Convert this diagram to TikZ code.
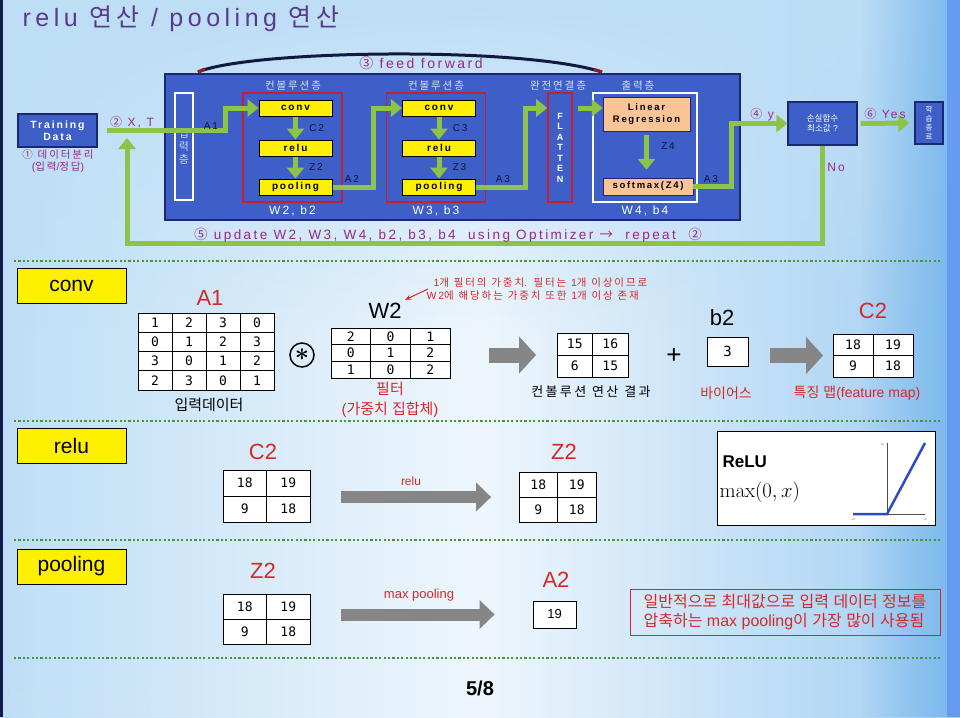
\documentclass[tikz,border=0pt]{standalone}
\usepackage[no-math]{fontspec}
\setmainfont{Liberation Sans}
\newfontfamily\latfont{Liberation Sans}
\newfontfamily\widefont{Liberation Sans}[LetterSpace=18]
\newfontfamily\krfont{Noto Sans CJK KR}
\newfontfamily\krwide{Noto Sans CJK KR}[LetterSpace=18]
\newfontfamily\numfont{DejaVu Sans Mono}
\usepackage{amsmath}
\usepackage{amssymb}
\usetikzlibrary{calc}
\usetikzlibrary{arrows.meta}
\usetikzlibrary{matrix}
\usetikzlibrary{positioning}
\usetikzlibrary{fadings}
\tikzset{ampersand replacement = \amp}
\newcommand{\amp}{&}

% hangul and circled numbers go to the korean font
\def\curlat{\latfont}
\def\curkr{\krfont}
\newcommand{\widetxt}{\widefont\let\curlat\widefont\let\curkr\krwide}
\XeTeXinterchartokenstate=1
\newXeTeXintercharclass\krclass
\count255="AC00
\loop\XeTeXcharclass\count255=\krclass\ifnum\count255<"D7A3 \advance\count255 by 1 \repeat
\count255="2460
\loop\XeTeXcharclass\count255=\krclass\ifnum\count255<"2473 \advance\count255 by 1 \repeat
\XeTeXcharclass"2192=\krclass
\XeTeXinterchartoks 0 \krclass = {\curkr}
\XeTeXinterchartoks 4095 \krclass = {\curkr}
\XeTeXinterchartoks \krclass 0 = {\curlat}
\XeTeXinterchartoks \krclass 4095 = {\curlat}

\definecolor{bgL}{RGB}{190,222,246}
\definecolor{bgM}{RGB}{238,246,252}
\definecolor{bgR}{RGB}{120,182,236}
\definecolor{netblue}{RGB}{62,94,200}
\definecolor{navy}{RGB}{28,40,110}
\definecolor{arrowgreen}{RGB}{141,196,72}
\definecolor{boxred}{RGB}{200,30,50}
\definecolor{ttlpurple}{RGB}{88,58,140}
\definecolor{labmag}{RGB}{150,40,140}
\definecolor{labred}{RGB}{215,40,40}
\definecolor{peach}{RGB}{250,196,150}
\definecolor{yel}{RGB}{255,240,0}
\definecolor{dotgreen}{RGB}{70,150,50}
\definecolor{plotblue}{RGB}{45,75,195}

\tikzset{
  ybox/.style={draw=black, line width=1pt, fill=yel, minimum width=73pt, minimum height=16pt, inner sep=0pt, font=\widetxt\bfseries\fontsize{10}{10}\selectfont},
  redframe/.style={draw=boxred, line width=1.6pt, minimum width=99pt, minimum height=109pt},
  garrow/.style={arrowgreen, line width=5pt, -{Triangle[length=11pt,width=17pt]}},
  bigarrow/.style={gray!95, line width=15pt, -{Triangle[length=17pt,width=36pt]}},
  midarrow/.style={gray!95, line width=12pt, -{Triangle[length=15pt,width=28pt]}},
  hdr/.style={text=white!80!netblue, font=\widetxt\fontsize{10.5}{10.5}\selectfont},
  lbl/.style={text=navy!50!black, font=\widetxt\fontsize{10}{10}\selectfont},
  wlbl/.style={text=white, font=\widetxt\fontsize{12}{12}\selectfont},
  maglbl/.style={text=labmag, font=\widetxt\fontsize{12}{12}\selectfont},
  secbox/.style={draw=black, line width=1pt, fill=yel, minimum width=109pt, minimum height=35pt, font=\fontsize{21}{21}\selectfont},
  redlbl/.style={text=labred, font=\fontsize{22}{22}\selectfont},
  blklbl/.style={text=black, font=\fontsize{22}{22}\selectfont},
  redtxt/.style={text=labred, font=\fontsize{14}{14}\selectfont},
  mat/.style 2 args={matrix of nodes, column sep=-.7pt, row sep=-.7pt,
    nodes={draw, line width=.7pt, fill=white, anchor=center, inner sep=0pt,
      minimum width=#1, minimum height=#2, font=\numfont\fontsize{13}{13}\selectfont}}
}

\begin{document}
\begin{tikzpicture}[x=1pt, y=-1pt]
\useasboundingbox (0,0) rectangle (960,717);
% background
\shade[left color=bgL, right color=bgL!60!bgR, middle color=bgM] (0,0) rectangle (960,717);
\fill[bgL, path fading=south] (0,0) rectangle (960,330);
\fill[bgR, path fading=west] (860,0) rectangle (960,717);
\fill[bgR!85!blue] (947,0) rectangle (960,717);
\fill[navy!70!black] (0,0) rectangle (2.5,717);

\node[anchor=west, text=ttlpurple, font=\widetxt\fontsize{25}{25}\selectfont] (title) at (19,19) {relu 연산 / pooling 연산};

% feed forward
\coordinate (ffL) at (198,72);
\coordinate (ffR) at (602,72);
\draw[line width=3pt, navy!60!black] (ffL) .. controls (250,50) and (520,46) .. (ffR);
\draw[line width=3pt, boxred!80!black] (ffL) -- ++(7,-3);
\draw[line width=3pt, boxred!80!black] (ffR) -- ++(-8,-2.5);
\node[text=labmag, font=\widetxt\fontsize{14}{14}\selectfont] (fflbl) at (421,63) {③ feed forward};

% network
\node[draw=navy, line width=1.2pt, fill=netblue, minimum width=575pt, minimum height=146pt] (net) at (452.5,147) {};
\node[draw=white, line width=1.2pt, minimum width=18pt, minimum height=107pt, align=center, text=white!75!netblue, font=\fontsize{11}{13}\selectfont] (inlayer) at (184,146.5) {입\\력\\층};
\foreach \n/\x/\t in {1/293/컨볼루션층, 2/436/컨볼루션층, 3/558/완전연결층, 4/638/출력층}
  \node[hdr] (hd\n) at (\x,86) {\t};

\foreach \i/\x/\c/\z/\w in {1/292.5/C2/Z2/2, 2/436/C3/Z3/3} {
  \node[redframe] (blk\i) at (\x,147.5) {};
  \node[ybox] (conv\i) at (\x+3,108) {conv};
  \node[ybox] (relu\i) at (\x+3,148) {relu};
  \node[ybox] (pool\i) at (\x+3,187) {pooling};
  \draw[garrow] (conv\i.south) -- node[lbl, right=8pt] (lc\i) {\c} (relu\i.north);
  \draw[garrow] (relu\i.south) -- node[lbl, right=8pt] (lz\i) {\z} (pool\i.north);
  \node[wlbl] (wb\i) at (\x,211) {W\w, b\w};
}

\node[draw=boxred, line width=1.6pt, minimum width=24pt, minimum height=109pt, align=center, text=white, font=\bfseries\fontsize{9}{10.5}\selectfont] (flat) at (560,147.5) {F\\L\\A\\T\\T\\E\\N};
\node[draw=white, line width=1.2pt, minimum width=104pt, minimum height=109pt] (outl) at (645,147.5) {};
\node[draw=navy, fill=peach, minimum width=87pt, minimum height=34pt, align=center, font=\widetxt\bfseries\fontsize{9.5}{12}\selectfont] (linreg) at (646.5,114) {Linear\\Regression};
\node[draw=navy, fill=peach, minimum width=90pt, minimum height=17pt, inner sep=0pt, font=\widetxt\bfseries\fontsize{9.5}{9.5}\selectfont] (smax) at (648,186.5) {softmax(Z4)};
\draw[garrow, shorten <=4pt, shorten >=8pt] (linreg.south) -- (linreg.south |- smax.north);
\node[lbl] (lz4) at (668,146) {Z4};
\node[wlbl] (wb4) at (645,211) {W4, b4};

% outside
\node[draw=navy, line width=1.2pt, fill=netblue, minimum width=79pt, minimum height=33pt, align=center, text=white, font=\widetxt\bfseries\fontsize{10.5}{12}\selectfont] (train) at (57.5,130.5) {Training\\Data};
\node[text=labmag, align=center, font=\widetxt\fontsize{10.5}{12}\selectfont] (split) at (58,161) {① 데이터분리\\(입력/정답)};
\node[draw=navy, line width=1.2pt, fill=netblue, minimum width=69pt, minimum height=43pt, align=center, text=white, font=\fontsize{8.5}{10}\selectfont] (loss) at (822.5,123.5) {손실함수\\최소값 ?};
\node[draw=navy, line width=1.2pt, fill=netblue, minimum width=28pt, minimum height=42pt, align=center, text=white, font=\fontsize{7.5}{9}\selectfont] (fin) at (929,123) {학\\습\\종\\료};

% connectors
\draw[garrow, shorten <=9pt] (train.east) -- ++(128,0) |- (conv1.west);
\node[lbl] (la1) at (211,126) {A1};
\node[maglbl] (lxt) at (132,122) {② X, T};
\draw[garrow] (pool1.east) -- ++(41,0) |- (conv2.west);
\node[lbl] (la2) at (352,179) {A2};
\draw[garrow] (pool2.east) -- ++(49,0) |- (flat.west |- conv2.west);
\node[lbl] (la3) at (503,179) {A3};
\draw[garrow, shorten <=5pt] (flat.east |- conv2.west) -- (linreg.west |- conv2.west);
\draw[garrow] (smax.east) -- ++(38,0) |- (loss.west);
\node[lbl] (la3b) at (711,179) {A3};
\node[maglbl] (ly) at (762,115) {④ y};
\draw[garrow, shorten <=3pt, shorten >=5pt] (loss.east) -- (fin.west);
\node[maglbl] (lyes) at (885,114) {⑥ Yes};
\coordinate (back) at (127,138);
\draw[garrow] (loss.south) -- ++(0,98) -| (back);
\node[maglbl] (lno) at (836,167) {No};
\node[text=labmag, font=\widetxt\fontsize{13.5}{13.5}\selectfont] (lupd) at (448,235) {⑤ update W2, W3, W4, b2, b3, b4 \ using Optimizer → \ repeat \ ②};

% separators
\foreach \y in {261,421,540,658}
  \draw[dotgreen, line width=2.5pt, dash pattern=on 2.2pt off 2.2pt] (14,\y) -- (940,\y);

% conv
\node[secbox] (secconv) at (71.5,285.5) {conv};
\node[redlbl] (la1b) at (210,298) {A1};
\matrix (matA1) [mat={34pt}{19.25pt}] at (206,351.5) {
  1 \amp 2 \amp 3 \amp 0 \\
  0 \amp 1 \amp 2 \amp 3 \\
  3 \amp 0 \amp 1 \amp 2 \\
  2 \amp 3 \amp 0 \amp 1 \\
};
\node[font=\fontsize{15}{15}\selectfont] (inlbl) at (209,405) {입력데이터};
\node[circle, draw, line width=1.5pt, minimum size=24pt, inner sep=0pt, font=\fontsize{34}{34}\selectfont] (star) at (302,355) {$\boldsymbol{\ast}$};
\node[blklbl] (w2lbl) at (385,311) {W2};
\matrix (matW2) [mat={39.7pt}{16.7pt}] at (390.5,353) {
  2 \amp 0 \amp 1 \\
  0 \amp 1 \amp 2 \\
  1 \amp 0 \amp 2 \\
};
\node[text=labred, align=center, font=\fontsize{15}{20}\selectfont] (filt) at (390,400) {필터\\(가중치 집합체)};
\node[anchor=west, text=labred, align=left, font=\widetxt\fontsize{10.5}{13}\selectfont] (note) at (423,289) {\hspace*{7pt}1개 필터의 가중치. 필터는 1개 이상이므로\\W2에 해당하는 가중치 또한 1개 이상 존재};
\draw[labred, line width=1pt, -{Stealth[length=6pt,width=5pt]}] ([xshift=5pt]note.west) -- (w2lbl.north east);
\matrix (matres) [mat={35.5pt}{22pt}] at (592.5,355) {
  15 \amp 16 \\
  6 \amp 15 \\
};
\draw[bigarrow, shorten <=35pt, shorten >=17pt] (matW2.east |- matres) -- (matres.west);
\node[font=\widetxt\fontsize{13}{13}\selectfont] (reslbl) at (591,392) {컨볼루션 연산 결과};
\node[font=\fontsize{26}{26}\selectfont] (plus) at (674,356) {+};
\node[blklbl] (b2lbl) at (722,318) {b2};
\node[draw, fill=white, line width=.8pt, minimum width=41pt, minimum height=29pt, font=\numfont\fontsize{14}{14}\selectfont] (bias) at (727.5,351.5) {3};
\node[redtxt] (biaslbl) at (726,393) {바이어스};
\node[redlbl] (c2lbl) at (873,311) {C2};
\matrix (matC2) [mat={40pt}{21.5pt}] at (873,355.5) {
  18 \amp 19 \\
  9 \amp 18 \\
};
\draw[bigarrow, shorten <=22pt, shorten >=6pt] (bias.east |- matC2) -- (matC2.west);
\node[redtxt] (fmlbl) at (857,393) {특징 맵(feature map)};

% relu
\node[secbox] (secrelu) at (71.5,446) {relu};
\node[redlbl] (c2r) at (263,452) {C2};
\matrix (matC2r) [mat={43.5pt}{26pt}] at (266.5,496) {
  18 \amp 19 \\
  9 \amp 18 \\
};
\node[redlbl] (z2r) at (564,452) {Z2};
\matrix (matZ2r) [mat={38.5pt}{25pt}] at (557.5,497) {
  18 \amp 19 \\
  9 \amp 18 \\
};
\draw[midarrow, shorten <=27pt, shorten >=24pt] (matC2r.east |- matZ2r) -- (matZ2r.west);
\node[text=labred, font=\fontsize{12}{12}\selectfont] (relulbl) at (411,481) {relu};
\node[draw, fill=white, line width=1pt, minimum width=218pt, minimum height=94pt] (relubox) at (826,478) {};
\node[anchor=west, font=\bfseries\fontsize{17}{17}\selectfont] (relutxt) at (719,462) {ReLU};
\node[anchor=west, font=\fontsize{21}{21}\selectfont] (relufx) at (716,492) {$\max(0,x)$};
\draw[line width=.5pt, gray!60!black] (887,443) -- (887,515);
\draw[line width=.5pt, gray!60!black] (853,514) -- (925,514);
\draw[plotblue, line width=2.5pt] (853,514) -- (887,514) -- (925,443);
\foreach \n/\x/\y/\t in {1/853/519/-10, 2/925/519/10, 3/882/444/10}
  \node[font=\fontsize{3}{3}\selectfont, text=gray] (tk\n) at (\x,\y) {\t};

% pooling
\node[secbox] (secpool) at (71.5,566.5) {pooling};
\node[redlbl] (z2p) at (263,571) {Z2};
\matrix (matZ2p) [mat={43.5pt}{25pt}] at (266.5,619) {
  18 \amp 19 \\
  9 \amp 18 \\
};
\node[redlbl] (a2lbl) at (556,580) {A2};
\node[draw, fill=white, line width=.8pt, minimum width=43pt, minimum height=27pt, font=\fontsize{13}{13}\selectfont] (a2box) at (554.5,614.5) {19};
\draw[midarrow, shorten <=27pt, shorten >=38pt] (matZ2p.east |- a2box) -- (a2box.west);
\node[text=labred, font=\fontsize{13}{13}\selectfont] (mplbl) at (419,595) {max pooling};
\node[draw=labred, line width=1pt, minimum width=310pt, minimum height=46pt, align=left, text=labred, font=\fontsize{16}{19}\selectfont] (pnote) at (785,612) {일반적으로 최대값으로 입력 데이터 정보를\\압축하는 max pooling이 가장 많이 사용됨};

\node[font=\bfseries\fontsize{20}{20}\selectfont] (pgno) at (480,688) {5/8};
\foreach \x in {17,39,65,90,115,141}
  \draw[white!75!gray, line width=1pt, opacity=.45] (\x,703) circle (9.5);
\end{tikzpicture}
\end{document}
